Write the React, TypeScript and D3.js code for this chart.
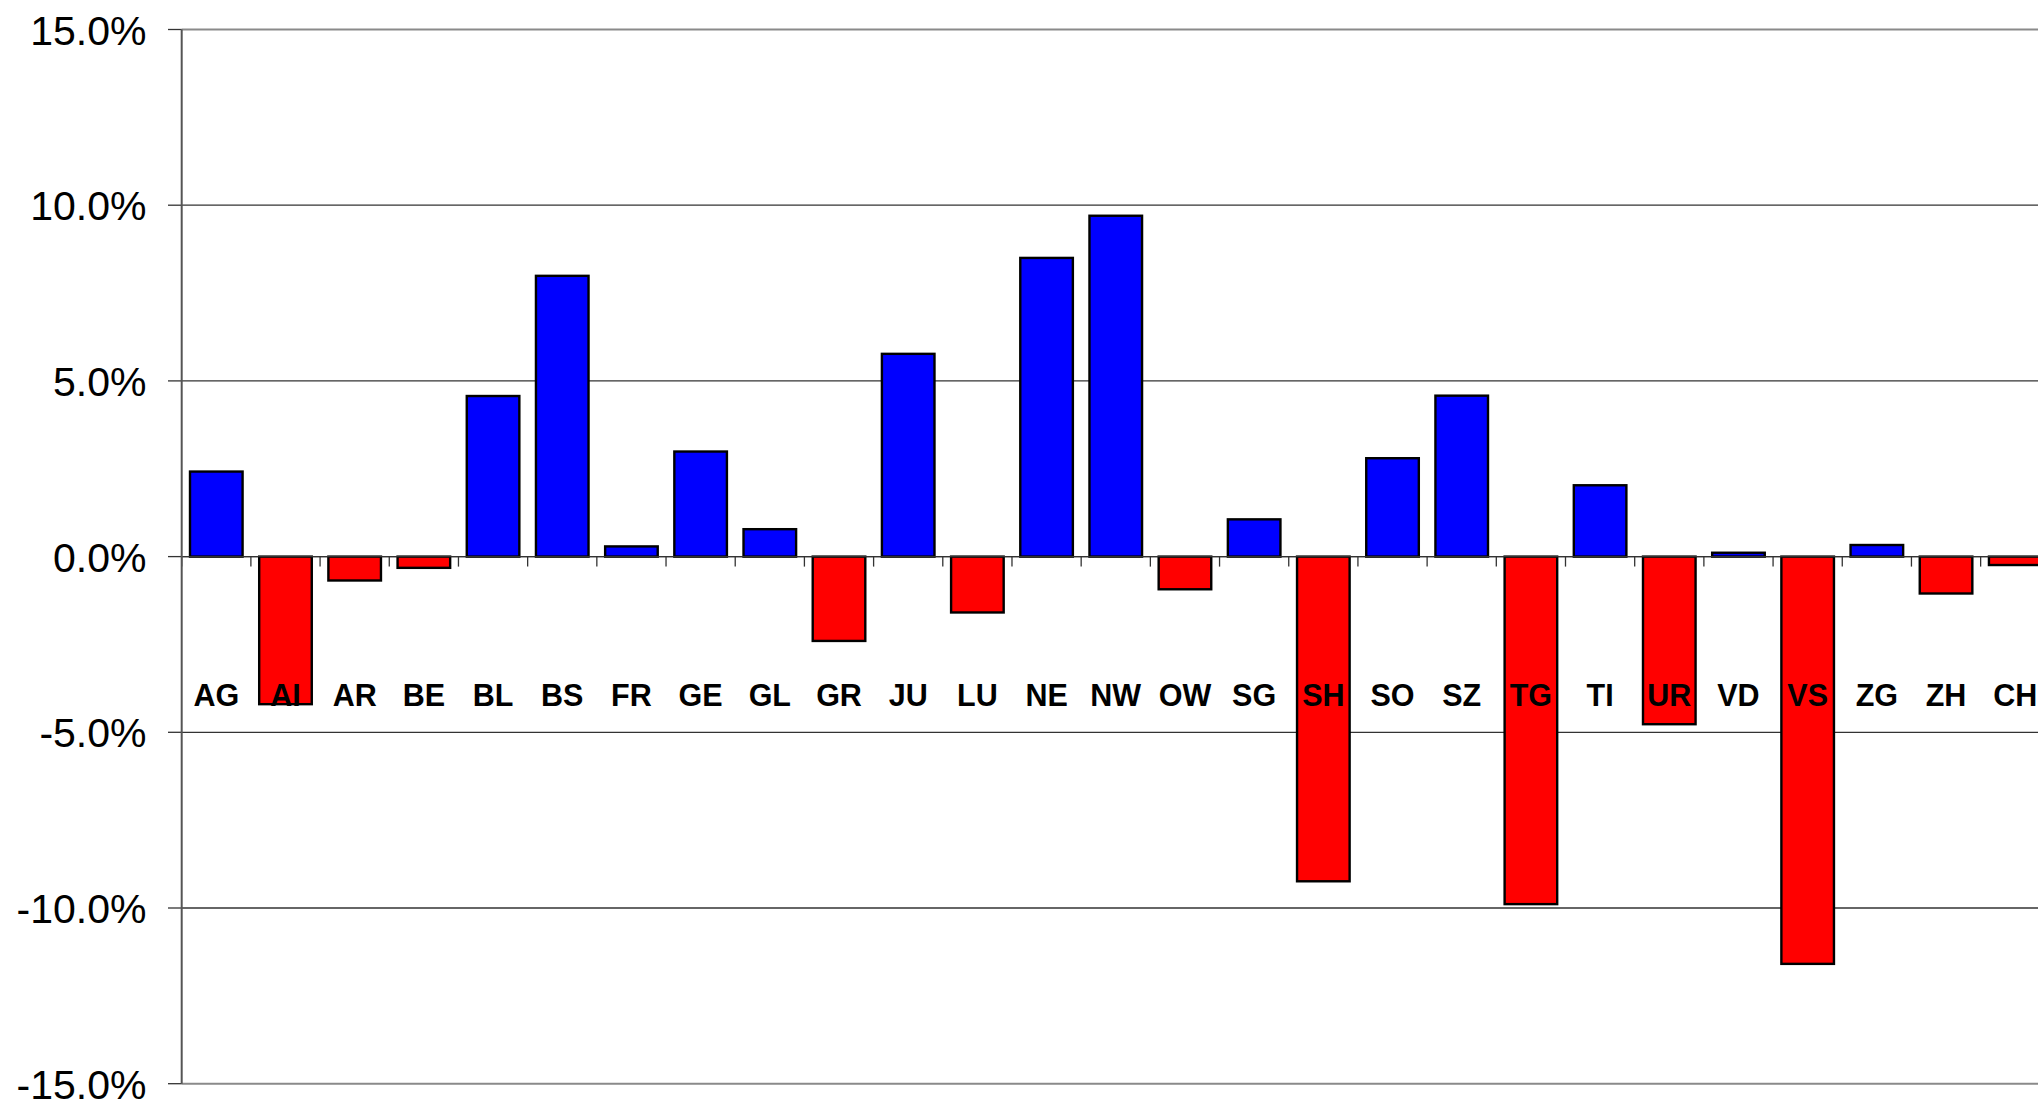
import React from "react";
import * as d3 from "d3";

const categories = ["AG","AI","AR","BE","BL","BS","FR","GE","GL","GR","JU","LU","NE","NW","OW","SG","SH","SO","SZ","TG","TI","UR","VD","VS","ZG","ZH","CH"];
const values = [2.42,-4.2,-0.68,-0.32,4.57,7.99,0.29,2.99,0.78,-2.4,5.77,-1.59,8.5,9.7,-0.93,1.06,-9.24,2.8,4.58,-9.89,2.03,-4.77,0.11,-11.59,0.33,-1.05,-0.24];
const yTicks = [15,10,5,0,-5,-10,-15];

const W = 2038, H = 1101;
const left = 181.7;
const step = 69.19;
const top = 29.5, bottom = 1083.7;

export default function App() {
  const x = d3.scaleBand<string>()
    .domain(categories)
    .range([left, left + step * categories.length])
    .paddingInner(0.24)
    .paddingOuter(0.12);
  const y = d3.scaleLinear().domain([-15, 15]).range([bottom, top]);
  const font = "'Liberation Sans', Arial, sans-serif";
  const right = left + step * categories.length;
  const y0 = y(0);
  const fmt = (t: number) => d3.format(".1f")(t).replace("\u2212", "-") + "%";
  return (
    <svg width={W} height={H} style={{ position: "absolute", left: 0, top: 0, background: "#fff" }}>
      {yTicks.map((t) => (
        <line key={"g" + t} x1={left} x2={right} y1={y(t)} y2={y(t)}
          stroke={t === 15 || t === -15 ? "#8a8a8a" : "#333"}
          strokeWidth={t === 15 || t === -15 ? 2 : 1.3} />
      ))}
      {yTicks.map((t) => (
        <g key={"t" + t}>
          <line x1={168} x2={left} y1={y(t)} y2={y(t)} stroke="#333" strokeWidth={1.3} />
          <text x={146.5} y={y(t) + 15} textAnchor="end" fontFamily={font} fontSize={41} fill="#000">
            {fmt(t)}
          </text>
        </g>
      ))}
      {categories.map((c, i) => {
        const v = values[i];
        const yy = Math.min(y(v), y0);
        const hh = Math.abs(y(v) - y0);
        return (
          <rect key={c} x={x(c)} y={yy} width={x.bandwidth()} height={hh}
            fill={v >= 0 ? "#0000ff" : "#ff0000"} stroke="#000" strokeWidth={2.4} />
        );
      })}
      <line x1={left} x2={right} y1={y0} y2={y0} stroke="#333" strokeWidth={1.3} />
      {d3.range(categories.length + 1).map((i) => (
        <line key={"xt" + i} x1={left + i * step} x2={left + i * step} y1={y0} y2={y0 + 10}
          stroke="#333" strokeWidth={1.3} />
      ))}
      <line x1={left} x2={left} y1={top} y2={bottom} stroke="#555" strokeWidth={2} />
      {categories.map((c) => (
        <text key={"l" + c} x={(x(c) as number) + x.bandwidth() / 2} y={706} textAnchor="middle"
          fontFamily={font} fontWeight="bold" fontSize={30.5} fill="#000">
          {c}
        </text>
      ))}
    </svg>
  );
}
